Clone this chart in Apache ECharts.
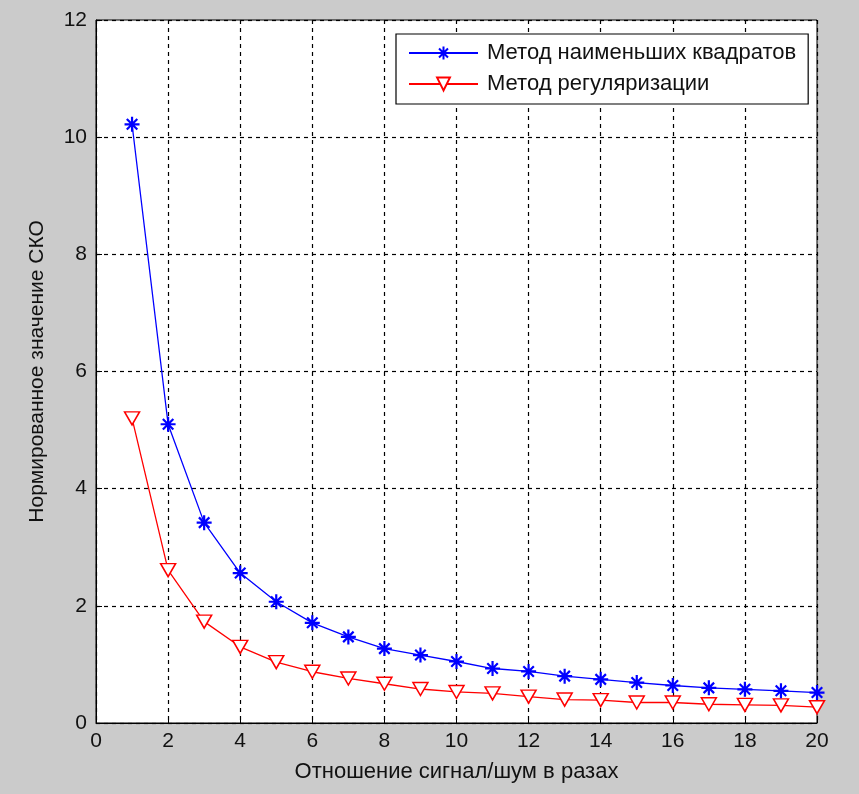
<!DOCTYPE html>
<html><head><meta charset="utf-8">
<script src="https://cdn.jsdelivr.net/npm/echarts@6/dist/echarts.min.js"></script>
<style>html,body{margin:0;padding:0;background:#cbcbcb}#c{width:859px;height:794px}</style>
</head><body><div id="c"></div>
<script>
const snr = [1,2,3,4,5,6,7,8,9,10,11,12,13,14,15,16,17,18,19,20];
const lsq = [10.22,5.10,3.42,2.56,2.07,1.71,1.47,1.27,1.16,1.05,0.93,0.88,0.80,0.745,0.69,0.64,0.60,0.575,0.55,0.52];
const reg = [5.20,2.61,1.73,1.30,1.04,0.875,0.76,0.67,0.58,0.53,0.505,0.45,0.40,0.39,0.35,0.35,0.32,0.31,0.30,0.27];
const xTicks = [0,2,4,6,8,10,12,14,16,18,20];
const yTicks = [0,2,4,6,8,10,12];
const names = ['Метод наименьших квадратов','Метод регуляризации'];

const star = 'path://M0,-10L0,10M-10,0L10,0M-7,-7L7,7M-7,7L7,-7';
const chart = echarts.init(document.getElementById('c'));
const font = '"Liberation Sans", Arial, sans-serif';
chart.setOption({
  backgroundColor: '#cbcbcb',
  animation: false,
  grid: {left: 96, right: 42, top: 20, bottom: 71, show: true, backgroundColor: '#ffffff', borderColor: '#000', borderWidth: 1, containLabel: false, outerBoundsMode: 'none'},
  legend: {
    left: 396, top: 34, orient: 'vertical', itemGap: 7,
    backgroundColor: '#fff', borderColor: '#000', borderWidth: 1.2, borderRadius: 0,
    padding: [7, 12, 8, 12], itemWidth: 69, itemHeight: 16,
    textStyle: {fontFamily: font, fontSize: 22, color: '#111', lineHeight: 24, padding: [0, 0, 0, 4]},
    data: names
  },
  xAxis: {
    type: 'value', min: xTicks[0], max: xTicks[xTicks.length-1], interval: 2,
    name: 'Отношение сигнал/шум в разах', nameLocation: 'middle', nameGap: 38,
    nameTextStyle: {fontFamily: font, fontSize: 22, color: '#111'},
    axisLine: {lineStyle: {color: '#000'}}, axisTick: {inside: true, length: 6, lineStyle: {color: '#000'}},
    axisLabel: {fontFamily: font, fontSize: 21, color: '#111', margin: 8},
    splitLine: {show: true, lineStyle: {color: '#000', type: [4, 4], width: 1.2}}
  },
  yAxis: {
    type: 'value', min: yTicks[0], max: yTicks[yTicks.length-1], interval: 2,
    name: 'Нормированное значение СКО', nameLocation: 'middle', nameGap: 48,
    nameTextStyle: {fontFamily: font, fontSize: 21, color: '#111'},
    axisLine: {lineStyle: {color: '#000'}}, axisTick: {inside: true, length: 6, lineStyle: {color: '#000'}},
    axisLabel: {fontFamily: font, fontSize: 21, color: '#111', margin: 9},
    splitLine: {show: true, lineStyle: {color: '#000', type: [4, 4], width: 1.2}}
  },
  series: [
    {name: names[0], type: 'line', data: snr.map((x,i)=>[x, lsq[i]]),
     lineStyle: {color: '#0000ff', width: 1.3}, itemStyle: {color: '#0000ff', borderColor: '#0000ff', borderWidth: 2.2},
     symbol: star, symbolSize: 15, showAllSymbol: true, z: 3},
    {name: names[1], type: 'line', data: snr.map((x,i)=>[x, reg[i]]),
     lineStyle: {color: '#ff0000', width: 1.3}, itemStyle: {color: '#ffffff', borderColor: '#ff0000', borderWidth: 1.5},
     symbol: 'triangle', symbolRotate: 180, symbolSize: [15, 13], showAllSymbol: true, z: 2}
  ]
});
</script></body></html>
